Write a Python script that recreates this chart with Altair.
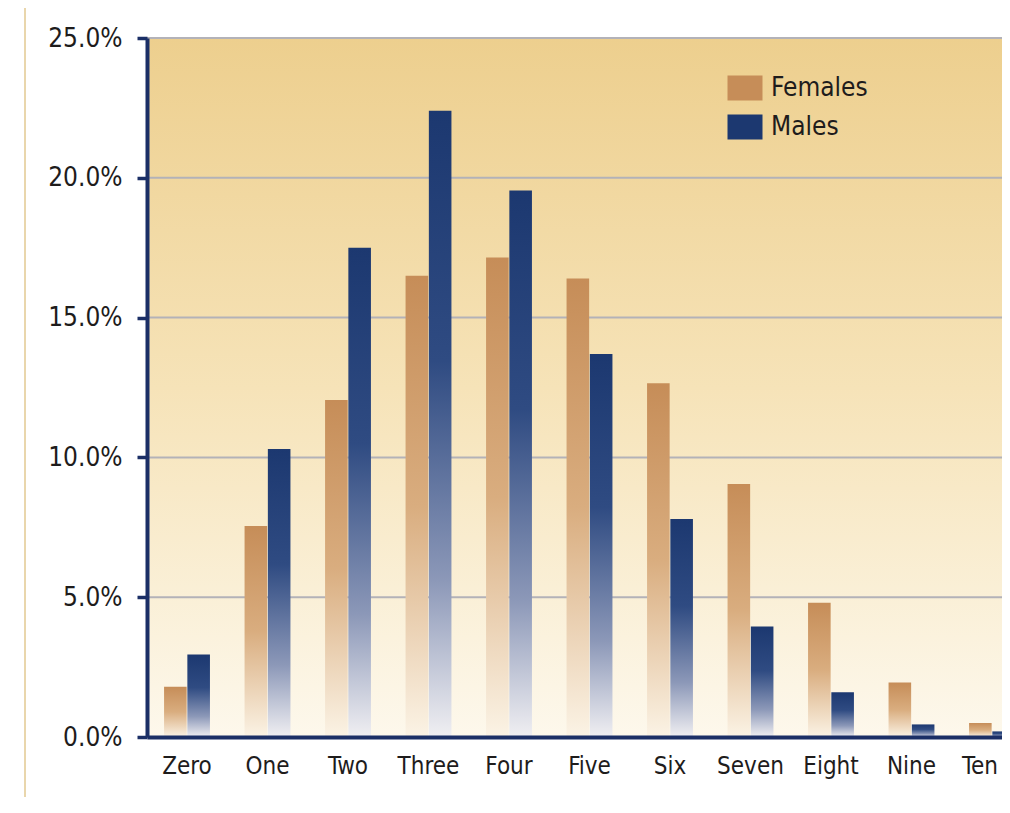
import altair as alt
import pandas as pd

categories = ["Zero", "One", "Two", "Three", "Four", "Five", "Six", "Seven", "Eight", "Nine", "Ten"]
females = [1.8, 7.55, 12.05, 16.5, 17.15, 16.4, 12.65, 9.05, 4.8, 1.95, 0.5]
males = [2.95, 10.3, 17.5, 22.4, 19.55, 13.7, 7.8, 3.95, 1.6, 0.45, 0.2]
series_names = ["Females", "Males"]
y_ticks = [0, 5, 10, 15, 20, 25]

rows = []
for c, f, m in zip(categories, females, males):
    rows.append({"cat": c, "series": "Females", "value": f})
    rows.append({"cat": c, "series": "Males", "value": m})
df = pd.DataFrame(rows)

W, H = 855, 699
FONT = "DejaVu Sans Condensed, Liberation Sans Narrow, sans-serif"
NAVY = "#1B2F66"
TAN = "#C68D58"
BLUE = "#1C3870"
TXT = "#1E1C1C"


def grad(stops):
    return alt.LinearGradient(
        gradient="linear", x1=0, x2=0, y1=0, y2=1,
        stops=[alt.GradientStop(color=c, offset=o) for o, c in stops],
    )


bg_grad = grad([(0, "#EDCF8E"), (0.5, "#F6E3B8"), (1, "#FDF8EC")])
fem_grad = grad([(0, "#C68D58"), (0.5, "#D9AD7F"), (1, "#FBF3E5")])
male_grad = grad([(0, "#1C3870"), (0.4, "#2F4B82"), (0.75, "#8C98B8"), (1, "#F0EFF2")])

x_scale = alt.Scale(domain=categories, range=[0, 885], paddingInner=0.43, paddingOuter=0.212)
y_scale = alt.Scale(domain=[0, 25], nice=False)
off_scale = alt.Scale(domain=series_names, paddingInner=0.03, paddingOuter=0)

x_axis = alt.Axis(
    title=None, ticks=False, domainColor=NAVY, domainWidth=4, labelFont=FONT,
    labelFontSize=24, labelColor=TXT, labelPadding=17, labelAngle=0, grid=False, zindex=1,
    labelOffset={"condition": {"test": "datum.value === 'Ten'", "value": -12}, "value": 0},
)
y_axis = alt.Axis(
    title=None, values=y_ticks, labelExpr="format(datum.value, '.1f') + '%'",
    domainColor=NAVY, domainWidth=4, tickColor=NAVY, tickWidth=3.5, tickSize=10,
    labelPadding=15, labelFont=FONT, labelFontSize=26, labelColor=TXT, grid=False, zindex=1,
)

frame = alt.Chart(alt.Data(values=[{"a": 1}])).mark_rule(color="#E9D6AC", strokeWidth=2).encode(
    x=alt.value(-122), y=alt.value(-30), y2=alt.value(H + 60)
)

background = alt.Chart(alt.Data(values=[{"a": 1}])).mark_rect(fill=bg_grad).encode(
    x=alt.value(0), x2=alt.value(W), y=alt.value(0), y2=alt.value(H)
)

grid = alt.Chart(pd.DataFrame({"tick": y_ticks})).mark_rule(color="#B3B2B8", strokeWidth=2).encode(
    y=alt.Y("tick:Q", scale=y_scale, axis=y_axis)
)


def bars(name, g):
    return alt.Chart(df).transform_filter(alt.datum.series == name).mark_bar(fill=g, clip=True).encode(
        x=alt.X("cat:N", sort=categories, scale=x_scale, axis=x_axis),
        xOffset=alt.XOffset("series:N", scale=off_scale),
        y=alt.Y("value:Q", scale=y_scale, axis=y_axis),
    )


legend_layer = alt.Chart(df).transform_filter("false").mark_bar().encode(
    x=alt.X("cat:N", sort=categories, scale=x_scale, axis=x_axis),
    y=alt.Y("value:Q", scale=y_scale, axis=y_axis),
    color=alt.Color(
        "series:N",
        scale=alt.Scale(domain=series_names, range=[TAN, BLUE]),
        legend=alt.Legend(
            title=None, orient="none", legendX=580, legendY=37,
            symbolType="M-1,-1L1.8,-1L1.8,1L-1,1Z", symbolSize=625,
            symbolStrokeWidth=0, symbolOpacity=1,
            labelFont=FONT, labelFontSize=26, labelColor=TXT, labelOffset=18,
            rowPadding=13, padding=0,
        ),
    ),
)

chart = alt.layer(
    frame, background, grid, bars("Females", fem_grad), bars("Males", male_grad), legend_layer
).properties(
    width=W, height=H,
    autosize=alt.AutoSizeParams(type="none"),
    padding={"left": 139, "top": 30, "right": 0, "bottom": 60},
    background="white",
).configure_view(stroke=None)

chart.save("out.html", embed_options={"renderer": "svg", "actions": False})
